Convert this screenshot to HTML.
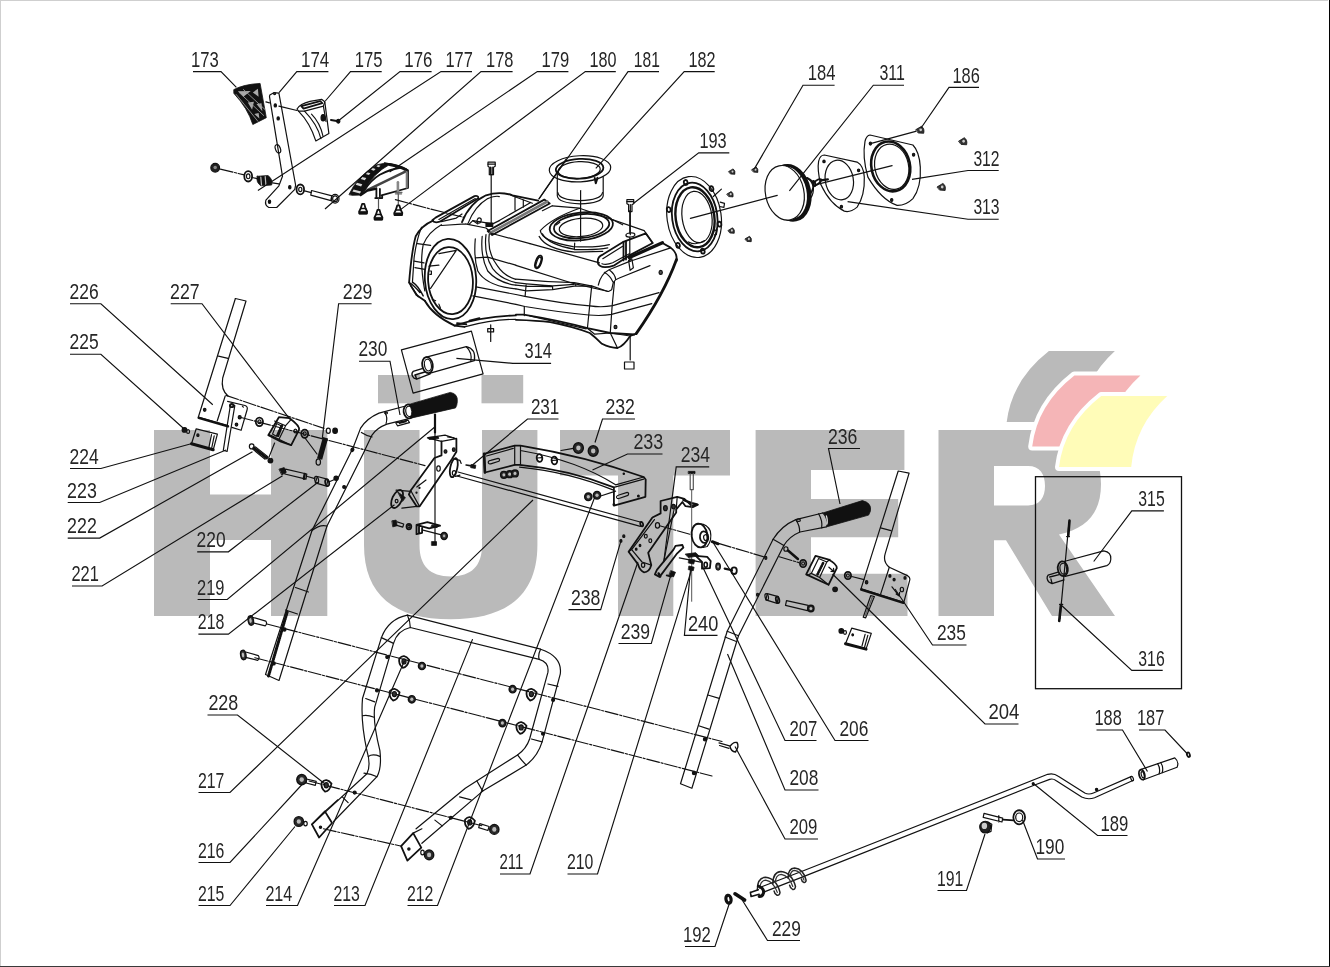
<!DOCTYPE html>
<html><head><meta charset="utf-8"><title>HUTER parts diagram</title>
<style>
html,body{margin:0;padding:0;background:#fff;}
body{width:1330px;height:967px;overflow:hidden;font-family:"Liberation Sans",sans-serif;}
svg{display:block;will-change:transform;opacity:0.999;}
.l{stroke:#111;stroke-width:1.15;fill:none;}
.p{stroke:#111;stroke-width:1.2;fill:none;stroke-linejoin:round;stroke-linecap:round;}
.pw{stroke:#111;stroke-width:1.2;fill:none;stroke-linejoin:round;}
.pf{stroke:#111;stroke-width:1.2;fill:#fff;stroke-linejoin:round;}
.t{stroke:#111;stroke-width:1.8;fill:none;stroke-linejoin:round;stroke-linecap:round;}
.k{fill:#111;stroke:#111;stroke-width:0.8;}
.d{stroke:#111;stroke-width:1.15;fill:none;stroke-dasharray:13 1.6 2.2 1.6;}
.n{font-family:"Liberation Sans",sans-serif;font-size:22.5px;fill:#262626;}
</style></head><body>
<svg width="1330" height="967" viewBox="0 0 1330 967">
<g fill="#bababa">
<path d="M154,430 H210 V494.5 H271 V430 H327.3 V616 H271 V540 H210 V616 H154 Z"/>
<path d="M364,430 H419.5 V545 C419.5,566 430,576.4 450.7,576.4 C471.5,576.4 482,566 482,545 V430 H537.4 V545 C537.4,595 507,619.3 450.7,619.3 C394.5,619.3 364,595 364,545 Z"/>
<rect x="378" y="375" width="42.3" height="28.3"/><rect x="481.5" y="375" width="41.7" height="28.3"/>
<path d="M560,430 H730 V475.5 H673.3 V616 H618 V475.5 H560 Z"/>
<path d="M755.6,430 H904.4 V470 H811 V499 H898.2 V537.2 H811 V573.8 H907.5 V616 H755.6 Z"/>
<path d="M938.5,430 H1043 C1082,430 1101,450 1101,484 C1101,512 1088,528 1059,534.5 L1115,616 H1052 L1006,540.3 H994 V616 H938.5 Z M994,466 V505.5 H1028 C1040,505.5 1045,497 1045,486 C1045,474 1040,466 1028,466 Z" fill-rule="evenodd"/>
</g>
<path d="M1048.9,351.1 h66 q-32,29 -36,71 h-72.2 q5,-42 42.2,-71 Z" fill="#bababa" stroke="#fff" stroke-width="8" stroke-linejoin="round" paint-order="stroke"/>
<path d="M1074.4,375.4 h66 q-32,29 -36,71 h-72.2 q5,-42 42.2,-71 Z" fill="#f5b5b7" stroke="#fff" stroke-width="8" stroke-linejoin="round" paint-order="stroke"/>
<path d="M1101.2,396.1 h66 q-32,29 -36,71 h-72.2 q5,-42 42.2,-71 Z" fill="#fffcb8" stroke="#fff" stroke-width="8" stroke-linejoin="round" paint-order="stroke"/>
<rect x="0" y="0" width="1328" height="1" fill="#cfcfcf"/>
<rect x="0" y="0" width="1" height="966" fill="#cfcfcf"/>
<rect x="1329" y="0" width="1" height="967" fill="#000"/>
<rect x="0" y="966" width="1330" height="1" fill="#3a3a3a"/>
<rect x="1035.5" y="476.7" width="146" height="212" fill="none" stroke="#111" stroke-width="1.3"/>
<g class="p">
<path class="k" d="M 234,89.5 Q 243.4,84.4 260.1,83.4 L 266.3,117.7 L 252.8,124.5 Q 247.8,108.3 234,93.5 Z"/>
<path d="M 237.9,91.2 L 250.7,90.9 L 243.4,96.7 Z M 252.8,92.4 L 257.9,88.8 L 258.6,96.7 Z M 247.8,102.5 L 253.9,101.8 L 252.1,109.7 Z M 256.5,104 L 261.5,103.2 L 262.3,111.2 Z M 254.3,114.1 L 258.6,112.9 L 259.4,118.4 Z" fill="#aaa" stroke="none"/>
<path d="M 239.1,92.4 L 263.7,115.5 M 243.4,89.5 L 265.2,109.7 M 236.2,94.5 L 257.9,121.3" stroke="#999" stroke-width="0.9"/>
<path class="pw" d="M 269.5,96.7 L 269.8,95 L 273.8,92.7 L 278.9,93.1 L 295.6,185 L 294.8,189.4 L 276.7,207.5 L 268.8,207.5 Q 264.4,205.3 265.9,200.2 L 278.9,185.8 L 282.5,176.3 Z"/>
<ellipse cx="275.3" cy="105.4" rx="1.16" ry="1.59" fill="#111"/>
<ellipse cx="278.2" cy="118.4" rx="1.16" ry="1.59" fill="#111"/>
<ellipse cx="289.8" cy="187.2" rx="1.16" ry="1.59" fill="#111"/>
<ellipse cx="269.5" cy="201.7" rx="1.16" ry="1.59" fill="#111"/>
<ellipse cx="274.6" cy="93.8" rx="1.01" ry="0.87"/>
<ellipse class="pw" cx="277.9" cy="148.8" rx="2.46" ry="4.34" transform="rotate(-20 277.9 148.8)"/>
<line x1="278.9" y1="106.1" x2="297" y2="110.5"/>
<line x1="265.9" y1="101.8" x2="269.5" y2="102.8"/>
<path class="pw" d="M 297,109 Q 299.9,104 310,101.4 L 321.6,99.3 L 324.8,101.8 L 328.9,133.6 L 315.8,140.9 Q 310,122.8 298.5,111.2 Z"/>
<path d="M 298.5,111.2 L 304.5,111.2 L 323.4,106.1 L 324.8,101.8"/>
<path d="M 304.5,111.2 Q 317.3,124.2 320.9,138.7"/>
<path class="t" d="M 301.3,106.1 L 320.2,101.1 L 322.3,103.2 L 303.5,108.6 Z"/>
<path d="M 311.5,114.1 Q 320.2,122.8 323.1,136.5"/>
<ellipse cx="323.1" cy="117.7" rx="2.03" ry="3.19" fill="#111"/>
<path d="M 323.4,106.1 L 326,121.3"/>
<ellipse cx="338.3" cy="121.3" rx="1.59" ry="1.88" fill="#111"/>
<line x1="331" y1="119.9" x2="336.8" y2="121" stroke-width="2"/>
<ellipse cx="215.2" cy="167.7" rx="4.34" ry="4.34" fill="#222"/>
<ellipse cx="215.2" cy="167.4" rx="1.74" ry="1.74" fill="#888" stroke="none"/>
<ellipse class="t" cx="248.2" cy="176.3" rx="3.91" ry="5.21"/>
<ellipse cx="248.2" cy="176.3" rx="1.74" ry="2.46"/>
<path class="k" d="M 257.2,176.3 L 268,175.6 Q 273.1,179.2 271.7,185 L 260.8,185.8 Q 255.7,182.1 257.2,176.3 Z"/>
<path d="M 260.8,177.1 L 261.5,185 M 265.2,176.6 L 265.9,185" stroke="#bbb" stroke-width="1.2"/>
<ellipse class="t" cx="300.3" cy="189.4" rx="3.76" ry="4.92"/>
<ellipse cx="300.3" cy="189.4" rx="1.59" ry="2.17"/>
<path class="pw" d="M 311.5,190.5 L 332,195.9 L 331,200.7 L 310.8,195.2 Z"/>
<ellipse class="pw" cx="335.1" cy="198.8" rx="3.91" ry="4.34"/>
<ellipse cx="335.1" cy="198.8" rx="2.46" ry="2.9"/>
<line class="d" x1="220.3" y1="169.1" x2="244.2" y2="174.9"/>
<line x1="252.1" y1="177.5" x2="257.2" y2="178.7"/>
<line x1="272.4" y1="182.9" x2="278.9" y2="183.9"/>
<line x1="304.5" y1="190.8" x2="311.2" y2="192.6"/>
</g>
<g class="p">
<path class="k" d="M 349.1,194.3 Q 356.5,177.3 376.4,164.9 L 384.7,163.2 L 389.6,164.5 Q 373.1,173.2 364,191.4 L 360.7,195.1 L 352.4,195.3 Z"/>
<path d="M 352.4,191.4 L 359.9,193.4 L 361.1,191.4 L 353.6,189.5 Z M 355.7,184.7 L 361.1,186.4 L 362.3,184.3 L 357,182.7 Z M 360.7,178.9 L 364.8,180.2 L 366.3,178.1 L 362.2,176.9 Z M 365.6,174 L 368.9,175.1 L 370.4,173.2 L 367.1,172.2 Z M 371,169.7 L 373.9,170.7 L 375.6,168.9 L 372.7,168 Z M 376.4,166.5 L 378.9,167.2 L 380.5,165.7 L 378,165.1 Z" fill="#d8d8d8" stroke="none"/>
<path class="t" d="M 384.7,163.2 Q 397.9,165.3 408,170.3 L 408,188 L 381.4,195.3"/>
<path d="M 389.6,164.5 Q 399.6,166.1 406.2,169.9" stroke-width="3"/>
<path class="t" d="M 364.8,189.7 Q 371.4,179.8 379.7,174.8 Q 389.6,169.4 401.2,167.5"/>
<path d="M 367.7,189.9 L 405.3,171.7" stroke-width="2.6" stroke="#444"/>
<path d="M 360.7,195.1 L 367.3,190.5 L 375.6,188.9" stroke-width="2.4"/>
<path d="M 406.8,172.3 L 406.8,187.6" stroke="#777" stroke-width="2.2"/>
<path class="t" d="M 376.4,188.2 L 376.4,198.1 M 379.9,188.9 L 379.9,196.5 M 375.2,198.1 L 382.2,198.1 L 382.2,196.3"/>
<path d="M 397.9,182.3 L 397.9,193" stroke="#888" stroke-width="2.6"/>
<path d="M 395.4,192.3 L 402,192.3 M 395.4,193.8 L 401.6,193.8" stroke="#666"/>
<path d="M 378.5,198.8 L 378.5,209.6 M 398.3,194.3 L 398.3,204.6" stroke="#555"/>
<path class="t" d="M 362.2,203.8 L 364.2,203.8 L 365.6,208.5 L 367.1,211.4 L 366.9,213.7 L 359.4,213.7 L 359.2,211.4 L 360.7,208.5 Z"/>
<path class="k" d="M 359.4,211.4 L 367,211.4 L 366.8,213.9 L 359.5,213.9 Z"/>
<path d="M 360.7,208.5 L 365.6,208.5" stroke-width="1.6"/>
<path class="t" d="M 377.5,209.8 L 379.5,209.8 L 380.9,214.5 L 382.4,217.4 L 382.2,219.7 L 374.7,219.7 L 374.5,217.4 L 376,214.5 Z"/>
<path class="k" d="M 374.7,217.4 L 382.3,217.4 L 382.1,219.9 L 374.8,219.9 Z"/>
<path d="M 376,214.5 L 380.9,214.5" stroke-width="1.6"/>
<path class="t" d="M 397.3,205.3 L 399.3,205.3 L 400.8,210 L 402.3,212.9 L 402,215.2 L 394.6,215.2 L 394.3,212.9 L 395.8,210 Z"/>
<path class="k" d="M 394.5,212.9 L 402.1,212.9 L 402,215.3 L 394.7,215.3 Z"/>
<path d="M 395.8,210 L 400.8,210" stroke-width="1.6"/>
<path class="d" d="M 395.4,199.6 L 430,208.9 L 464.1,217.4"/>
</g>
<g class="p">
<path class="pw" d="M 557.3,174.7 L 557.3,195.8 Q 557.9,203.2 580,203.8 Q 602.1,203.2 603.2,195.8 L 603.2,176.8"/>
<path d="M 557.9,192.6 Q 558.9,200 580,200.6 Q 601.1,200 602.5,192.6"/>
<ellipse class="pw" cx="580" cy="168.8" rx="30.74" ry="13.05" transform="rotate(-3 580 168.8)" stroke-width="1.4"/>
<ellipse class="t" cx="579.6" cy="168.8" rx="23.79" ry="9.89" transform="rotate(-3 579.6 168.8)"/>
<ellipse cx="579.2" cy="170.1" rx="21.05" ry="8.42" transform="rotate(-3 579.2 170.1)"/>
<path d="M 594.7,177.9 L 595.8,183.2 L 597.5,177.9" stroke-width="2"/>
<line x1="580.6" y1="190.5" x2="580.6" y2="241.1"/>
<line x1="566.3" y1="158.9" x2="538.9" y2="198.9"/>
<path class="pw" d="M 488,162.1 L 495.2,162.1 L 495.2,166.3 L 493.5,167.2 L 493.5,174.7 L 489.3,174.7 L 489.3,167.2 L 488,166.3 Z"/>
<path d="M 488,164.2 L 495.2,164.2 M 490.5,167.2 L 490.5,174.7 M 492.2,167.2 L 492.2,174.7" stroke-width="1.3"/>
<line x1="491.2" y1="174.7" x2="491.2" y2="225.3"/>
<path class="pw" d="M 626.9,199.6 L 633.7,199.6 L 633.7,203.8 L 632,204.6 L 632,211.6 L 628.6,211.6 L 628.6,204.6 L 626.9,203.8 Z"/>
<path d="M 626.9,201.7 L 633.7,201.7 M 630.3,204.6 L 630.3,211.6" stroke-width="1.3"/>
<line x1="630.3" y1="211.6" x2="630.3" y2="234.7"/>
</g>
<g class="p">
<path class="t" d="M 433.1,220.6 Q 421.5,225.5 415.7,236.3 Q 411.6,251.2 409.1,282.6 L 416.5,295 L 424.8,300.8"/>
<path class="t" d="M 424.8,300.8 Q 433.1,315.7 454.6,325.6 L 464.5,326.8"/>
<path d="M 409.1,282.6 Q 413.2,284.3 419.9,292.5 M 410.8,285.9 L 418.2,296.7 M 413.2,282.6 Q 418.2,285.9 423.2,295.9" stroke-width="1.4"/>
<path d="M 441.4,224.7 Q 428.1,232.2 423.2,244.6 Q 419.5,262.8 424.8,290.9"/>
<path d="M 421.5,227.2 Q 416.5,239.6 414.1,257.8 L 412.4,282.6"/>
<path d="M 417.4,243.7 L 430.6,245.4 M 414.1,261.1 L 424,262.8 M 414.9,267.7 L 424.8,269.4"/>
<ellipse class="t" cx="450.5" cy="279" rx="25.65" ry="40.21" transform="rotate(-4 450.5 279)"/>
<ellipse class="t" cx="450.5" cy="280.6" rx="22.34" ry="33.59" transform="rotate(-4 450.5 280.6)"/>
<path d="M 429,266.1 L 438.9,265.2 M 430.6,288.4 L 456.3,250.4 M 438.9,253.7 L 456.3,250.4 M 432.3,299.2 L 435.6,300.8 M 438.9,304.1 L 440.5,308.3"/>
<path d="M 429.8,271 L 431.4,271 L 431.4,274.3 L 429.8,274.3"/>
<path class="t" d="M 432.3,220.2 L 435.6,217.6 L 474.5,196.1 Q 478.6,195.3 478.3,198.2 L 439.7,221.7 Q 433.9,223.4 432.3,220.2 Z"/>
<path d="M 438.9,219.4 L 475.3,198.6 M 441.4,221.7 L 456.3,218.1 L 462,214"/>
<path class="t" d="M 462,222.2 Q 469.5,203.2 486,195.3 Q 499.3,190.8 512.5,195.3 L 538.2,200.7"/>
<path d="M 467.8,223.9 Q 474.5,206.5 487.7,198.6 Q 496,195.3 499.3,196.6"/>
<path d="M 465.4,223.9 L 486,228 L 490.2,231.7 M 441.4,225.5 L 465.4,223.9 M 469.5,223.9 L 472.8,220.6 L 492.7,223.9 L 499.3,220.6"/>
<path d="M 515,197.4 L 515,210.1 M 523.3,199.9 L 523.3,207.3 M 510.9,195.3 L 532.4,203.2 M 499.3,220.6 L 530.7,202.4"/>
<ellipse cx="479.1" cy="220.6" rx="1.99" ry="2.65" transform="rotate(20 479.1 220.6)"/>
<path d="M 486,223.1 L 492.7,223.1 L 492.7,226.4 L 486,226.4 Z" fill="#111"/>
<path d="M 472.8,220.6 L 477.8,223.9"/>
<path class="t" d="M 487.7,231 L 544.3,199.6 L 549.7,203.5 L 492.2,235 Z"/>
<path d="M 490.2,233 L 547.3,201.5" stroke-width="2.6" stroke="#777"/>
<path d="M 475.3,238.8 Q 473.6,257.8 477.8,271 Q 486,285.9 515.8,288.9"/>
<path d="M 482.2,236.3 Q 480.2,256.1 487.7,271 Q 497.6,282.6 515.8,285.1"/>
<path d="M 486,234.6 Q 483.6,254.5 492.7,268.6 Q 500.9,279.3 515.8,282.6"/>
<path d="M 489.3,234 Q 486.9,252.8 497.6,266.1 Q 504.2,276 515.8,279.3"/>
<path d="M 475.3,257.8 L 487.7,257.1 L 515.8,265.2 M 490.2,233 L 530,243.6"/>
<path d="M 476.1,286.8 L 515.8,294.5 M 472.8,295.9 L 515.8,304.3"/>
<path class="t" d="M 454.6,325.6 Q 482.7,316.5 515.8,315.4"/>
<path d="M 464.5,326.8 Q 492.7,319.3 515.8,319.3"/>
<path d="M 457.1,323.2 L 466.2,324.3 M 469.5,320.7 L 479.4,318.2" stroke-width="2"/>
<ellipse class="t" cx="538.5" cy="261.9" rx="2.81" ry="6.62" transform="rotate(20 538.5 261.9)"/>
<ellipse cx="538.5" cy="262.3" rx="1.82" ry="5.29" transform="rotate(20 538.5 262.3)"/>
<path d="M 490.7,324.8 L 490.7,341.4 M 487.7,328.6 L 493.6,328.6 L 493.6,331.9 L 487.7,331.9 Z"/>
<path d="M 515.9,265.4 L 574.2,283.7 L 608.5,291.5 L 611.7,289.7 L 613.3,282.5"/>
<path d="M 515.9,279.2 Q 544.1,281.9 574.2,282.7 L 592.3,286.1 L 607.9,291.5"/>
<path d="M 515.9,282.6 Q 538.1,285.1 552.6,285.8 L 574.2,284.4 M 515.9,285.1 L 526.1,286.1 L 552.6,286.7 M 515.9,288.9 L 526.1,290.9 L 552.6,289.7 L 574.2,286.1 L 591.7,286.1 M 526.1,285.1 L 525.1,296.3 M 552.6,285.8 L 552.6,289.7 M 575.7,284.3 L 575.7,286.1"/>
<path d="M 515.9,294.5 L 524.9,296.3 Q 562.2,303.5 589.8,305.9 Q 601.9,307.7 612.7,305.6 L 659,292.6"/>
<path d="M 515.9,304.4 L 524.9,306.5 Q 562.2,312.6 588.6,315 Q 601.9,316.2 611.5,314.4 L 651.8,303.7"/>
<path d="M 524.3,306.5 L 524.3,315.6 M 591.7,286.1 L 589.6,306.5 L 587.4,328.2 M 614.5,281.5 L 612.1,306.5 L 610.3,332.4"/>
<path class="t" d="M 515.9,314.6 L 523.7,314.6 Q 562.2,321 587.4,328.2 L 610.3,333 L 634.4,334.5"/>
<path class="t" d="M 515.9,319.8 Q 538.1,320.4 550.2,322.2 Q 574.2,327 589.8,333 Q 595.9,337.8 601.9,343.8 Q 610.3,348 617.5,348 Q 623.5,346.2 630.2,336 L 636.2,333.6"/>
<path d="M 587.4,328.2 L 594.7,334.2 L 610.3,333 L 617.5,348 M 610.3,333 L 630.2,336 M 529.7,315.9 L 586.2,328.8" stroke-width="1.2"/>
<ellipse cx="615.5" cy="327" rx="1.44" ry="1.68" fill="#444"/>
<path d="M 598.3,285.1 Q 600.7,274.1 609.1,269.8 L 630.2,261.1 M 609.1,269.8 Q 615.1,274.1 615.7,279.5 M 604.3,272.3 Q 610.3,275.9 612.7,281.5 M 613.3,282.5 Q 615.1,279.5 618.7,278.3 L 650,265.6"/>
<path d="M 630.2,336 L 630.2,360"/>
<path d="M 530,243.6 L 599.5,262.8 M 552.3,205.8 L 579.6,208.2 L 644.2,230.6 L 652.4,243 M 579.6,208.2 Q 551.5,218.2 540.3,230.6 Q 541.6,241.3 573,246.6 Q 596.2,247.9 609.4,244.6"/>
<path d="M 552.3,205.8 L 542.4,210.7"/>
<ellipse class="t" cx="581.3" cy="226.4" rx="31.77" ry="13.9" transform="rotate(-6 581.3 226.4)"/>
<ellipse class="t" cx="581.6" cy="226.1" rx="27.8" ry="11.91" transform="rotate(-6 581.6 226.1)" stroke-width="2.2"/>
<ellipse cx="581" cy="227.4" rx="21.84" ry="9.1" transform="rotate(-6 581 227.4)"/>
<path d="M 542.4,233.9 Q 548.2,244.6 574.7,249.3 Q 596.2,250.4 607.8,247.9 M 539.1,236.4 Q 546.5,249.6 574.7,252.1 L 602.8,251.3 M 574.7,243 L 574.3,249.6"/>
<path d="M 612.7,219.8 L 622.7,224.8 M 559.8,222.3 L 556.5,224.8"/>
<ellipse cx="630.4" cy="235" rx="4.47" ry="1.99" transform="rotate(-5 630.4 235)"/>
<path class="t" d="M 597.8,261.2 Q 597.8,256.2 602.8,254.6 L 622.7,242.2 L 645.8,233.4 L 652.8,243 L 630.9,254.6 L 614.4,265.3 Q 604.5,268.6 600.3,266.1 Q 597.5,264.5 597.8,261.2 Z"/>
<path d="M 602.8,258.7 L 622.7,246.3 M 602,263.7 Q 606.1,265.3 612.7,262.8 L 629.3,253.7" stroke-width="1.2"/>
<path class="t" d="M 623.5,242.2 L 623.5,260.4 M 626,241.3 L 626,259.5"/>
<path d="M 629.3,257.5 L 662.4,242.7" stroke-width="3.4"/>
<path d="M 628.6,260.4 L 631.8,258.7 L 633.4,267.8 L 630.1,270.3 Z"/>
<path class="t" d="M 662.4,243 L 670.6,247.6 Q 677.6,252.9 676.6,260.9"/>
<path d="M676.5,259.5 Q664,294 636.2,333.6" stroke-width="2.8"/>
<path d="M 629.3,261.5 L 670.6,247.9"/>
<ellipse cx="660.7" cy="272.4" rx="1.65" ry="1.99" fill="#555"/>
<path d="M 629.8,210.7 L 629.8,233.1 M 629.8,237.2 L 629.8,261.2"/>
</g>
<rect x="624.5" y="362" width="9.5" height="7" class="p" stroke-width="1.6"/>
<g class="p">
<ellipse cx="694.1" cy="217" rx="27.06" ry="40.71" transform="rotate(-8 694.1 217)"/>
<ellipse class="t" cx="694.7" cy="217" rx="22.59" ry="34.51" transform="rotate(-8 694.7 217)"/>
<ellipse cx="695" cy="217.3" rx="19.36" ry="30.16" transform="rotate(-8 695 217.3)" stroke-width="2.4"/>
<ellipse cx="697" cy="217" rx="14.9" ry="25.82" transform="rotate(-8 697 217)"/>
<path d="M 688.5,241.9 Q 696,246.2 704.7,240.6"/>
<ellipse cx="685.7" cy="182.5" rx="1.86" ry="2.48" transform="rotate(-10 685.7 182.5)" stroke-width="1.8"/>
<ellipse cx="711.5" cy="188.7" rx="1.86" ry="2.48" transform="rotate(-10 711.5 188.7)" stroke-width="1.8"/>
<ellipse cx="668.7" cy="209.6" rx="1.86" ry="2.48" transform="rotate(-10 668.7 209.6)" stroke-width="1.8"/>
<ellipse cx="719.5" cy="224.2" rx="1.86" ry="2.48" transform="rotate(-10 719.5 224.2)" stroke-width="1.8"/>
<ellipse cx="678" cy="245.3" rx="1.86" ry="2.48" transform="rotate(-10 678 245.3)" stroke-width="1.8"/>
<ellipse cx="702.8" cy="251.2" rx="1.86" ry="2.48" transform="rotate(-10 702.8 251.2)" stroke-width="1.8"/>
<path d="M 720.2,202.1 L 724.5,203.4 L 723.9,207.3 L 719.5,206.5 M 713.3,196.5 L 721.4,189.1 M 714.6,230.7 L 717.1,229.4 L 716.4,234.4 L 714.3,235"/>
<line x1="788.4" y1="191" x2="801.5" y2="182.9"/>
<ellipse cx="790.3" cy="192.8" rx="19.24" ry="27.56" transform="rotate(-12 790.3 192.8)" stroke-width="3.2"/>
<ellipse cx="788.4" cy="192.8" rx="19.24" ry="27.56" transform="rotate(-12 788.4 192.8)" stroke-width="2.2"/>
<ellipse class="pf" cx="784.7" cy="192.8" rx="19.24" ry="27.56" transform="rotate(-12 784.7 192.8)"/>
<line x1="690.4" y1="218.3" x2="777.3" y2="195.3"/>
<path d="M 805.8,177.9 Q 811.4,179.2 813.3,187.2 Q 813.9,193.4 810.8,197.8"/>
<ellipse class="t" cx="814.1" cy="183.5" rx="1.24" ry="2.73" transform="rotate(-15 814.1 183.5)"/>
<path d="M 728.8,171.4 L 733.1,168.9 Q 735.7,170.6 734.8,174.3 L 730.8,174 Z" fill="#333" stroke="#111" stroke-width="0.8"/><ellipse cx="732.5" cy="171.6" rx="1" ry="1.14" fill="#ccc" stroke="none"/>
<path d="M 751.8,169.6 L 756.1,167 Q 758.6,168.7 757.8,172.4 L 753.8,172.1 Z" fill="#333" stroke="#111" stroke-width="0.8"/><ellipse cx="755.5" cy="169.7" rx="1" ry="1.14" fill="#ccc" stroke="none"/>
<path d="M 727,194 L 731.2,191.5 Q 733.8,193.2 733,196.9 L 729,196.6 Z" fill="#333" stroke="#111" stroke-width="0.8"/><ellipse cx="730.7" cy="194.2" rx="1" ry="1.14" fill="#ccc" stroke="none"/>
<path d="M 728.2,230.4 L 732.5,227.8 Q 735.1,229.5 734.2,233.3 L 730.2,233 Z" fill="#333" stroke="#111" stroke-width="0.8"/><ellipse cx="731.9" cy="230.5" rx="1" ry="1.14" fill="#ccc" stroke="none"/>
<path d="M 745.2,238.8 L 749.5,236.3 Q 752.1,238 751.2,241.7 L 747.2,241.4 Z" fill="#333" stroke="#111" stroke-width="0.8"/><ellipse cx="748.9" cy="239" rx="1" ry="1.14" fill="#ccc" stroke="none"/>
<path d="M 824.3,155 L 857.1,162.1 Q 863.6,165.7 864.3,177.1 Q 865,195.7 857.1,207.1 Q 850,212.9 844.3,211.1 Q 830,204.3 820.7,184.3 Q 817.1,170 818.6,161.4 Q 820,155 824.3,155 Z"/>
<ellipse cx="839.3" cy="180" rx="14" ry="20" transform="rotate(-10 839.3 180)"/>
<ellipse cx="824" cy="161.4" rx="1.14" ry="1.29" fill="#222"/>
<ellipse cx="858.6" cy="170.3" rx="1.14" ry="1.29" fill="#222"/>
<ellipse cx="841.4" cy="206.7" rx="1.14" ry="1.29" fill="#222"/>
<path class="t" d="M 807.1,177.9 Q 811.4,180 813.6,182.9 M 808.6,195.7 Q 812.9,191.4 813.6,185.7 M 813.6,185.7 Q 812.9,182.1 818.6,179.3 Q 822.9,178.6 820.7,181.4 Q 817.1,185.7 813.6,185.7"/>
<path d="M 820.7,180.3 L 827.9,179.4" stroke-width="2.2"/>
<line x1="817.1" y1="184.3" x2="892.1" y2="165.7"/>
<path d="M 870,135 L 912.9,145 Q 919.3,151.4 920.3,167.1 Q 921.4,187.1 912.9,198.6 Q 905.7,205.7 897.1,205.4 Q 881.4,200 867.9,177.1 Q 862.1,157.1 865,141.4 Q 866.4,135.4 870,135 Z"/>
<ellipse cx="890.7" cy="166.4" rx="19.29" ry="25.14" transform="rotate(-12 890.7 166.4)" stroke-width="2.6"/>
<ellipse cx="891.7" cy="166.7" rx="16.86" ry="22.86" transform="rotate(-12 891.7 166.7)"/>
<ellipse cx="870.4" cy="143.6" rx="1.14" ry="1.43" fill="#222"/>
<ellipse cx="913.6" cy="154.7" rx="1.14" ry="1.43" fill="#222"/>
<ellipse cx="891.7" cy="200" rx="1.14" ry="1.43" fill="#222"/>
<line x1="870.4" y1="143.6" x2="915.7" y2="131.4"/>
<path d="M 915.9,129.6 L 921.5,126.3 Q 924.8,128.5 923.7,133.3 L 918.5,133 Z" fill="#333" stroke="#111" stroke-width="0.8"/><ellipse cx="920.7" cy="129.8" rx="1.3" ry="1.49" fill="#ccc" stroke="none"/>
<path d="M 958.8,141.1 L 964.3,137.7 Q 967.7,139.9 966.6,144.8 L 961.4,144.4 Z" fill="#333" stroke="#111" stroke-width="0.8"/><ellipse cx="963.6" cy="141.2" rx="1.3" ry="1.49" fill="#ccc" stroke="none"/>
<path d="M 937.3,186.8 L 942.9,183.4 Q 946.3,185.7 945.1,190.5 L 939.9,190.1 Z" fill="#333" stroke="#111" stroke-width="0.8"/><ellipse cx="942.2" cy="187" rx="1.3" ry="1.49" fill="#ccc" stroke="none"/>
</g>
<g class="p">
<path d="M401.4,349.8 L471.4,331.2 L483.1,373.8 L413.1,393.1 Z"/>
<ellipse class="t" cx="427.5" cy="365.1" rx="5.23" ry="8.12" transform="rotate(-10 427.5 365.1)"/>
<ellipse cx="427.9" cy="365.1" rx="3.43" ry="5.95" transform="rotate(-10 427.9 365.1)"/>
<path d="M 426.3,357.2 L 466.3,346.7 Q 476.2,348.9 474.4,360.6 L 430.2,373.2"/>
<path d="M 466.3,346.7 Q 472.6,352.5 470.8,361.5"/>
<path d="M 422.1,368.7 L 413.1,371.4 Q 410.4,374.1 414,378.1 L 416.7,379.2 L 430.2,373.8 M 414.9,375 L 424.8,372 M 416.7,379.2 L 415.4,375.6" stroke-width="1.4"/>
</g>
<g class="p">
<path d="M 235.4,298.5 L 246,301 L 222.7,378 Q 220.6,389.6 228,396"/>
<path class="d" d="M226,395.4 L324,428.4"/>
<path class="d" d="M240,417.2 L425,465.6"/>
<path d="M 235.4,298.5 L 198.3,417.2 L 228,425.7" stroke-width="1.2"/>
<path d="M 198.7,417.8 L 228,426.3" stroke-width="2.4"/>
<path d="M 218.5,356.1 L 228,358.3 M 225.2,396 L 217.2,421"/>
<ellipse cx="204.7" cy="409.8" rx="1.27" ry="1.48" fill="#222"/>
<path d="M 230.5,404.5 L 234.8,405.7 L 227.1,451.5 L 223.3,450.3 Z"/>
<path d="M 227.6,401.3 L 245,405.5 Q 248.1,406.6 247.1,409.8 L 241.1,430.3 L 231.8,427.4"/>
<ellipse class="t" cx="231.8" cy="405.5" rx="1.91" ry="1.7"/>
<ellipse cx="239.7" cy="417.2" rx="1.48" ry="1.7" fill="#222"/>
<ellipse cx="236.5" cy="424.6" rx="1.27" ry="1.48" fill="#222"/>
<path d="M 242.4,406.2 L 243.3,407.2"/>
<path d="M 196.2,428.8 L 217.4,434.1 L 213.2,450 L 191.5,443.7 Z"/>
<path d="M 191.5,443.7 L 213.2,449.8" stroke-width="3"/>
<path d="M 211.5,434.6 L 208.9,447.3 M 214.2,435.8 L 211.5,449"/>
<ellipse cx="197.9" cy="435.2" rx="1.06" ry="1.27" fill="#222"/>
<ellipse cx="184.5" cy="429.9" rx="2.33" ry="2.33" fill="#151515" stroke="#111"/>
<ellipse cx="188.1" cy="431.6" rx="1.48" ry="1.91"/>
<ellipse class="t" cx="259.4" cy="421.8" rx="3.6" ry="4.24"/><ellipse cx="259.4" cy="421.8" rx="1.61" ry="1.91"/>
<path class="t" d="M 278.9,417.2 L 289.5,418.2 Q 300.1,425.7 299,429.9 L 291.2,445.2 L 281,441.6 L 268.3,435.2 Z"/>
<path d="M 274.6,421 L 285.6,425.7 L 278.9,439.4 L 269.3,434.6 M 285.6,425.7 L 291.2,419.3 M 278.9,439.4 L 291.2,445.2 M 276.7,423.5 L 281,425.7 L 276.3,436.3 L 272.5,434.1 Z"/>
<path d="M 282,425.7 L 277.8,436.3" stroke-width="2.6" stroke-dasharray="1.2 1.2"/>
<ellipse cx="295.4" cy="431" rx="1.48" ry="1.91"/>
<ellipse class="t" cx="304.7" cy="433.7" rx="3.42" ry="4.03"/><ellipse cx="304.7" cy="433.7" rx="1.53" ry="1.81"/>
<path d="M305,438 L317,454"/>
<path d="M325.5,437.8 L319.6,459" stroke-width="5.3" stroke-linecap="butt"/>
<ellipse cx="318.3" cy="462" rx="2.2" ry="3.2"/>
<ellipse cx="328.3" cy="430.8" rx="2" ry="2.6"/><ellipse cx="335.1" cy="430.8" rx="2.3" ry="2.6" fill="#111"/>
<ellipse class="pw" cx="251.7" cy="446.4" rx="2.33" ry="2.54"/>
<path d="M 253.9,447.9 L 266.6,457.9" stroke-width="3" stroke-dasharray="1.3 1"/>
<path d="M 253,449.4 L 265.1,459.2 M 255.5,446.9 L 267.8,456.6"/>
<ellipse cx="270.4" cy="460.6" rx="2.33" ry="2.33" fill="#151515" stroke="#111"/>
<path d="M 274.6,443 L 268.7,457.9"/>
<path class="k" d="M 279.3,469.1 L 284.2,467.6 L 286.3,472.3 L 282,474.8 Z"/>
<path d="M 285.6,469.1 L 306.8,474 L 306,479.1 L 284.8,474 Z"/>
<path d="M 304.7,474 L 303.9,478.7" stroke-width="2.4"/>
<path d="M 317.4,476.5 L 328,479.3 L 326.6,486.1 L 315.3,482.9 Z"/>
<ellipse cx="316.6" cy="479.7" rx="1.91" ry="3.39" transform="rotate(-12 316.6 479.7)"/>
<ellipse class="t" cx="327.2" cy="482.7" rx="1.91" ry="3.39" transform="rotate(-12 327.2 482.7)"/>
<ellipse cx="336.1" cy="478.2" rx="2.12" ry="2.12" fill="#151515" stroke="#111"/>
<path d="M 307.5,476.5 L 314.9,478.7 M 329.3,481.8 L 334,479.7"/>
</g>
<g class="p">
<path class="k" d="M 408.9,404.4 L 450.3,392.4 Q 458.2,393.8 457.3,401.7 Q 457,406.1 455.5,407.9 L 409.8,418.4 Q 414.2,411.4 408.9,404.4 Z"/>
<ellipse class="t" cx="408.9" cy="411.4" rx="5.28" ry="7.04" transform="rotate(-8 408.9 411.4)"/>
<ellipse cx="409.3" cy="411.4" rx="3.52" ry="5.28" transform="rotate(-8 409.3 411.4)"/>
<path d="M 395.7,422.8 L 408.1,420.2 L 409.5,422.6 L 397.5,425.8 Z M 399.3,423.3 L 406.3,421.6" stroke-width="1.2"/>
<path d="M 435,414.6 L 435,432.5" stroke-width="2.2"/>
<path d="M 403.7,406.5 L 379,413.1 Q 366.7,418.4 360.6,428.1 L 353,448"/>
<path d="M 408.1,418.8 L 386.9,424.1 Q 376.4,428.1 372,435.1 L 364.4,451"/>
<path d="M 385.2,413.1 Q 387.8,417.5 386.1,423.3 M 361.4,432.5 Q 366.7,436 372,436.9"/>
<ellipse cx="386.1" cy="413.1" rx="1.41" ry="0.88"/>
<ellipse cx="352.1" cy="450.4" rx="1.06" ry="1.23"/>
</g>
<g class="p">
<path d="M353,448 L312,530.5 L265.5,674.5 L279,680.5 L327,526 L364.5,451"/>
<path d="M312,530.5 Q320,524 327,526 M295.5,587.5 L308.4,592 M285.5,610 L297.5,614"/>
<path d="M287.2,612 L268.5,676" stroke-width="3" stroke-dasharray="1.2 1"/>
<circle cx="344.1" cy="487" r="1.4" fill="#111"/><circle cx="352.5" cy="449.5" r="1.4" fill="#111"/><circle cx="284.4" cy="629.5" r="1.6" fill="#111"/><circle cx="273.6" cy="663.4" r="1.6" fill="#111"/>
</g>
<g class="p">
<path d="M 427.4,437.8 L 445,435.1 L 456.4,438.7 L 441.5,441.3 Z"/>
<path class="k" d="M 428.3,437.4 L 438,436.4 L 438.8,438.5 L 429.5,439.5 Z"/>
<path class="t" d="M 441.5,441.3 L 441.5,455.4 L 434.4,458 L 410.7,490.5 L 408.9,494.4 L 416.8,506.4 L 419.5,506.4 L 452,458.9 L 456.4,451.8 L 456.4,438.7"/>
<path d="M 410.7,490.5 L 419.5,506.4 M 416.8,487 L 426,480 M 447.6,436.9 L 453.8,437.8"/>
<ellipse cx="445.5" cy="451.5" rx="1.41" ry="1.76" fill="#333"/>
<ellipse cx="453.8" cy="449.7" rx="1.41" ry="1.76" fill="#333"/>
<ellipse cx="438.5" cy="468.6" rx="1.76" ry="2.64"/>
<ellipse cx="419.5" cy="487.9" rx="0.53" ry="0.53" fill="#111"/>
<ellipse cx="416.5" cy="492.7" rx="0.53" ry="0.53" fill="#111"/>
<ellipse class="t" cx="397.1" cy="499" rx="4.75" ry="9.68" transform="rotate(25 397.1 499)"/>
<path d="M 396.1,490.2 L 410.7,491.4 M 401.9,508.1 L 416.8,506.4"/>
<path class="k" d="M 397.8,492 L 405.4,497.6 L 402.8,501.1 Z"/>
<ellipse cx="396.6" cy="501.1" rx="1.41" ry="1.76"/>
<line x1="435" y1="432.5" x2="435" y2="541.6"/>
<path class="k" d="M 392.2,520.8 L 396.1,520.1 L 397.1,525.7 L 393.1,526.8 Z"/>
<path d="M 397.1,521.9 L 403.7,524 L 402.8,527.1 L 396.8,525.4"/>
<ellipse class="t" cx="408.9" cy="526.6" rx="2.39" ry="2.81"/><ellipse cx="408.9" cy="526.6" rx="1.07" ry="1.27"/>
<path class="t" d="M 416.5,524.9 L 427.4,522.2 L 440.1,525.7 L 429.2,528.4 Z M 416.5,524.9 L 416.5,534.2 L 422.1,532.8 L 422.1,526.8 M 419,525.7 L 419,533.6"/>
<path class="k" d="M 432.3,524.9 L 438.8,525.7 L 437.1,527.5 L 431.3,526.8 Z"/>
<path d="M 423,530.1 L 441.5,534.9"/>
<ellipse cx="444.1" cy="535.9" rx="3.17" ry="3.52" fill="#333" stroke="#111" stroke-width="1.5"/>
<ellipse cx="444.1" cy="535.9" rx="1.23" ry="1.41" fill="#aaa" stroke="none"/>
<path class="k" d="M 431.8,541.6 L 436.5,541.6 L 436.5,545.4 L 431.8,545.4 Z"/>
<ellipse class="t" cx="453.8" cy="467.7" rx="3.52" ry="9.68" transform="rotate(12 453.8 467.7)"/>
<path d="M 453.8,458.9 L 459.9,460.3 L 461.2,463.5 M 455.2,476.5 L 459.9,475.1"/>
<ellipse cx="454.1" cy="473" rx="1.76" ry="2.46"/>
<path class="k" d="M 471.4,464.5 L 475.8,465.2 L 475.3,468.4 L 471,467.7 Z"/>
<path d="M 466.1,465 L 471.4,465.9" stroke-width="1.6"/>
</g>
<g class="p">
<path d="M458,472 L642,522.5 M457,476 L640.4,526.3"/>
<ellipse class="t" cx="641.7" cy="524.1" rx="1.32" ry="2.32" transform="rotate(-15 641.7 524.1)"/>
<path class="t" d="M 484.1,453.8 L 514.7,445.6 L 520.5,445.6 Q 585.8,456.3 643.7,477 L 645.7,479.5 L 645.4,496.8 L 613.9,505.6 L 613.9,487.4 Q 569.3,469.6 519.6,464.9 L 514.7,464.9 L 484.9,472.5 Z"/>
<path d="M 514.7,445.6 L 514.7,464.9 M 520.5,445.6 L 520.5,464.6 M 486.5,456 L 513.3,448.4 M 613.9,487.4 L 643.7,479.1 M 520.5,450.5 Q 577.5,460.5 615.6,484.8 M 643.7,477 L 615.6,484.8"/>
<path d="M 519.6,467.1 Q 569.3,472 613.6,490.2" stroke-width="1.3"/>
<path d="M 484.1,453.8 L 484.9,472.5" stroke-width="2.6"/>
<path d="M 488.5,463.3 Q 487.4,461 490.7,460.3 L 498.1,458.3 Q 500.6,459 498.9,461.3 L 491.5,463.6 Q 489.5,464.3 488.5,463.3 Z"/>
<path d="M 616.9,498 Q 615.6,496 618.9,495 L 627.2,492.4 Q 629.6,493 628,495.4 L 619.7,498.3 Q 617.6,499 616.9,498 Z"/>
<ellipse class="t" cx="539.5" cy="458" rx="2.81" ry="3.97" transform="rotate(-5 539.5 458)"/>
<ellipse class="t" cx="554.4" cy="460.5" rx="2.81" ry="3.97" transform="rotate(-5 554.4 460.5)"/>
<path d="M 537,458 L 542,457.6 M 551.9,460.5 L 556.8,460.1"/>
<ellipse cx="638.4" cy="496" rx="0.83" ry="0.99" fill="#111"/>
<ellipse cx="613.9" cy="504.6" rx="0.83" ry="0.99" fill="#111"/>
<ellipse cx="623.8" cy="473.7" rx="0.66" ry="0.66" fill="#111"/>
<ellipse cx="578.4" cy="448" rx="4.96" ry="5.21" fill="#2a2a2a" stroke="#111" stroke-width="1.4"/><ellipse cx="578.4" cy="448" rx="2.23" ry="2.48" fill="#bbb" stroke="none"/>
<ellipse cx="593.2" cy="451" rx="4.96" ry="5.21" fill="#2a2a2a" stroke="#111" stroke-width="1.4"/><ellipse cx="593.2" cy="451" rx="2.23" ry="2.48" fill="#bbb" stroke="none"/>
<ellipse cx="503.9" cy="474.8" rx="3.31" ry="3.47" fill="#2a2a2a" stroke="#111" stroke-width="1.4"/><ellipse cx="503.9" cy="474.8" rx="1.49" ry="1.65" fill="#bbb" stroke="none"/>
<ellipse cx="509.7" cy="474.2" rx="3.31" ry="3.47" fill="#2a2a2a" stroke="#111" stroke-width="1.4"/><ellipse cx="509.7" cy="474.2" rx="1.49" ry="1.65" fill="#bbb" stroke="none"/>
<ellipse cx="515" cy="473.4" rx="3.31" ry="3.47" fill="#2a2a2a" stroke="#111" stroke-width="1.4"/><ellipse cx="515" cy="473.4" rx="1.49" ry="1.65" fill="#bbb" stroke="none"/>
<ellipse cx="588.3" cy="496.8" rx="3.64" ry="3.82" fill="#2a2a2a" stroke="#111" stroke-width="1.4"/><ellipse cx="588.3" cy="496.8" rx="1.64" ry="1.82" fill="#bbb" stroke="none"/>
<ellipse cx="597" cy="495.2" rx="3.64" ry="3.82" fill="#2a2a2a" stroke="#111" stroke-width="1.4"/><ellipse cx="597" cy="495.2" rx="1.64" ry="1.82" fill="#bbb" stroke="none"/>
<path d="M 561,450.5 L 573.4,448.4 M 600.7,496 L 615.6,491.1"/>
</g>
<g class="p">
<path d="M 311.9,824.4 L 366.9,773.8 Q 371.2,765.1 366.9,750.6 Q 360.5,721.6 362.5,698.5 L 381.4,637.6 Q 388.6,618.8 407.4,615.1 L 540.6,649.2 Q 562.4,656.5 560.3,673.8 L 542.1,741.9 Q 537.7,756.4 526.2,765.1 L 482.7,791.1 L 421.9,843.3"/>
<path d="M 333.6,821.5 L 377,776.7 Q 381.9,768 379.9,750.6 Q 372.7,721.6 374.7,707.2 L 393.5,643.4 Q 397.3,630.4 410.3,627.5 L 539.2,659.4 Q 549.3,662.3 547.9,672.4 L 529.6,739 Q 526.2,749.1 517.5,754.9 L 465.3,788.2 L 416.1,828.8"/>
<path d="M 407.4,615.1 Q 410.3,621.7 410.3,627.5 M 540.6,649.2 Q 537.7,655 539.2,659.4"/>
<path d="M 381.4,637.6 L 393.5,643.4 M 365.7,698.5 L 374.7,701.9 M 362.5,715.8 Q 366.9,714.4 374.1,717.3 M 368.3,756.4 Q 372.7,753.5 379.9,756.4 M 364,773.2 Q 371.2,773.8 377,776.7 M 342.3,796.9 L 348.1,802.7"/>
<path d="M 547.9,684 L 558,686.3 M 531.4,739 L 542.1,741.9 M 517.5,754.9 Q 521.8,760.7 526.2,765.1 M 476.9,781 L 482.7,791.1 M 459.6,796.9 L 471.1,799.8 M 434.9,820.1 L 442.2,825.9"/>
<path class="t" d="M 311.9,824.4 L 324.9,811.4 L 332.1,823 L 319.1,837.5 Z"/>
<path class="t" d="M 401.1,846.2 L 413.2,833.1 L 421.3,847.6 L 407.4,860.6 Z"/>
<path d="M 324.9,811.4 L 337.9,799.8 M 413.2,833.1 L 421.9,828.8"/>
<ellipse cx="320.5" cy="827.3" rx="1.16" ry="1.16" fill="#111"/>
<ellipse cx="408.9" cy="849.1" rx="1.16" ry="1.16" fill="#111"/>
<path class="d" d="M266.9,624 L722,741.5"/>
<path class="d" d="M254.9,657.7 L712,776"/>
<line class="d" x1="309" y1="781" x2="482.7" y2="825.9"/>
<line class="d" x1="323.4" y1="828.8" x2="401.6" y2="846.2"/>
<path class="t" d="M 399.3,658.5 Q 404,653.3 409.2,659.7 Q 407.4,667.2 402.8,667.8 Q 398.2,664.3 399.3,658.5 Z"/><ellipse cx="404" cy="661.4" rx="2.03" ry="2.61" fill="#333"/>
<path class="t" d="M 389.8,691.2 Q 394.4,686 399.6,692.4 Q 397.9,699.9 393.2,700.5 Q 388.6,697 389.8,691.2 Z"/><ellipse cx="394.4" cy="694.1" rx="2.03" ry="2.61" fill="#333"/>
<path class="t" d="M 526.7,691.2 Q 531.4,686 536.6,692.4 Q 534.9,699.9 530.2,700.5 Q 525.6,697 526.7,691.2 Z"/><ellipse cx="531.4" cy="694.1" rx="2.03" ry="2.61" fill="#333"/>
<path class="t" d="M 516.6,724.5 Q 521.2,719.3 526.5,725.7 Q 524.7,733.2 520.1,733.8 Q 515.4,730.3 516.6,724.5 Z"/><ellipse cx="521.2" cy="727.4" rx="2.03" ry="2.61" fill="#333"/>
<path class="t" d="M 321.7,782.5 Q 326.3,777.2 331.5,783.6 Q 329.8,791.1 325.2,791.7 Q 320.5,788.2 321.7,782.5 Z"/><ellipse cx="326.3" cy="785.3" rx="2.03" ry="2.61" fill="#333"/>
<path class="t" d="M 465.1,819.5 Q 469.7,814.3 474.9,820.7 Q 473.2,828.2 468.5,828.8 Q 463.9,825.3 465.1,819.5 Z"/><ellipse cx="469.7" cy="822.4" rx="2.03" ry="2.61" fill="#333"/>
<ellipse cx="421.9" cy="666" rx="3.48" ry="3.65" fill="#2a2a2a" stroke="#111" stroke-width="1.4"/><ellipse cx="421.9" cy="666" rx="1.56" ry="1.74" fill="#bbb" stroke="none"/>
<ellipse cx="411.8" cy="699.3" rx="3.48" ry="3.65" fill="#2a2a2a" stroke="#111" stroke-width="1.4"/><ellipse cx="411.8" cy="699.3" rx="1.56" ry="1.74" fill="#bbb" stroke="none"/>
<ellipse cx="512.6" cy="689.2" rx="3.48" ry="3.65" fill="#2a2a2a" stroke="#111" stroke-width="1.4"/><ellipse cx="512.6" cy="689.2" rx="1.56" ry="1.74" fill="#bbb" stroke="none"/>
<ellipse cx="502.4" cy="723.1" rx="3.48" ry="3.65" fill="#2a2a2a" stroke="#111" stroke-width="1.4"/><ellipse cx="502.4" cy="723.1" rx="1.56" ry="1.74" fill="#bbb" stroke="none"/>
<ellipse cx="387.2" cy="657.1" rx="1.45" ry="1.45" fill="#111"/>
<ellipse cx="377" cy="690.4" rx="1.45" ry="1.45" fill="#111"/>
<ellipse cx="553.1" cy="699.9" rx="1.45" ry="1.45" fill="#111"/>
<ellipse cx="543" cy="733.8" rx="1.45" ry="1.45" fill="#111"/>
<ellipse cx="354.7" cy="792.6" rx="1.45" ry="1.45" fill="#111"/>
<ellipse cx="450.9" cy="817.8" rx="1.45" ry="1.45" fill="#111"/>
<ellipse cx="301.7" cy="779.6" rx="4.92" ry="5.17" fill="#2a2a2a" stroke="#111" stroke-width="1.4"/><ellipse cx="301.7" cy="779.6" rx="2.22" ry="2.46" fill="#bbb" stroke="none"/>
<path d="M 306.6,779 L 316.2,781.3 L 315.3,785.3 L 306.1,783 Z"/>
<ellipse cx="298.8" cy="821.5" rx="4.63" ry="4.87" fill="#2a2a2a" stroke="#111" stroke-width="1.4"/><ellipse cx="298.8" cy="821.5" rx="2.09" ry="2.32" fill="#bbb" stroke="none"/>
<ellipse cx="305.5" cy="823.6" rx="1.74" ry="2.32"/>
<ellipse cx="494.3" cy="829.4" rx="4.63" ry="4.87" fill="#2a2a2a" stroke="#111" stroke-width="1.4"/><ellipse cx="494.3" cy="829.4" rx="2.09" ry="2.32" fill="#bbb" stroke="none"/>
<path d="M 479.8,823.6 L 489.1,826.5 L 487.9,830.5 L 478.7,827.6 Z"/>
<ellipse cx="429.1" cy="854.9" rx="4.63" ry="4.87" fill="#2a2a2a" stroke="#111" stroke-width="1.4"/><ellipse cx="429.1" cy="854.9" rx="2.09" ry="2.32" fill="#bbb" stroke="none"/>
<ellipse cx="422.5" cy="852.5" rx="1.74" ry="2.32"/>
</g>
<g class="p">
<ellipse cx="250.8" cy="620.5" rx="2.7" ry="4.8" transform="rotate(-10 250.8 620.5)" fill="#333" stroke="#111" stroke-width="1.3"/>
<ellipse cx="250.5" cy="620.5" rx="1.2" ry="2.4" transform="rotate(-10 250.5 620.5)" fill="#bbb" stroke="none"/>
<path d="M 253.2,617.5 L 265.8,621.1 Q 267.6,623.5 265.2,625.9 L 253.2,622.9"/>
<ellipse cx="243.3" cy="655" rx="2.7" ry="4.8" transform="rotate(-10 243.3 655)" fill="#333" stroke="#111" stroke-width="1.3"/>
<ellipse cx="243" cy="655" rx="1.2" ry="2.4" transform="rotate(-10 243 655)" fill="#bbb" stroke="none"/>
<path d="M 245.7,652 L 258.3,655.6 Q 260.1,658 257.7,660.4 L 245.7,657.4"/>
</g>
<g class="p">
<path class="t" d="M 660.6,501 L 677.2,496.9 L 684.4,498.9 L 691.7,505.8 L 697.9,504.7 L 692.7,507.2 L 685.5,506.2 L 682.4,502 L 676.2,509.3 L 676.2,512.4 L 648.2,552.7 L 651.3,565.1 Q 649.3,572.3 644.1,572.3 Q 640,571.3 637.9,564.1 L 628.6,551.7 L 652.4,517.5 L 660.6,513.4 Z"/>
<path d="M 628.6,551.7 L 631.7,549.6 L 642,562 L 651.3,565.1 M 631.7,549.6 L 654.4,519.6 M 677.2,496.9 L 676.2,509.3"/>
<ellipse cx="665.4" cy="508.2" rx="1.86" ry="2.48" fill="#333"/>
<ellipse cx="673.5" cy="506.6" rx="1.86" ry="2.27" fill="#333"/>
<ellipse cx="657.5" cy="525.4" rx="2.07" ry="2.69"/>
<ellipse cx="645.8" cy="536.2" rx="1.45" ry="1.86"/>
<ellipse cx="650.3" cy="540.7" rx="1.45" ry="1.86"/>
<ellipse cx="640" cy="545.5" rx="0.83" ry="1.03" fill="#111"/>
<ellipse cx="636.2" cy="549.2" rx="0.83" ry="1.03" fill="#111"/>
<ellipse cx="643.1" cy="565.1" rx="1.65" ry="2.27"/>
<path d="M 683.4,500 L 691.7,503.1 L 696.8,504.5" stroke-width="2.4"/>
<path class="k" d="M 688.6,471.4 L 695,471.4 L 695,473.5 L 688.6,473.5 Z"/>
<path d="M 690.2,473.5 L 690.2,489.6 L 693.3,489.6 L 693.3,473.5" stroke="#555"/>
<line x1="691.7" y1="489.6" x2="691.7" y2="601.3" stroke="#555" stroke-width="1"/>
<path class="t" d="M 675.5,545.9 L 682.4,545 L 683.4,547.5 L 677.2,553.3 L 659.6,576.9 L 654.9,574.4 L 656.9,569.9 L 673.5,549.6 Z"/>
<path d="M 658.6,573.4 L 660.2,576.5" stroke-width="2.4"/>
<path d="M 674.1,509.3 L 663.7,562"/>
<path class="k" d="M 671,570.7 L 675.5,572.3 L 673.5,576.9 L 669.3,574.8 Z"/>
<path d="M 666.8,575.4 L 671,576.5" stroke-width="2"/>
<ellipse class="t" cx="699.5" cy="535.5" rx="7.86" ry="11.99" transform="rotate(-8 699.5 535.5)"/>
<path d="M 695.8,524.4 Q 706.1,521.7 710.3,531 Q 712.3,540.3 707.2,546.5 L 703,547.5"/>
<ellipse class="t" cx="704.1" cy="537.2" rx="4.14" ry="5.79" transform="rotate(-8 704.1 537.2)"/>
<ellipse cx="705.7" cy="537.6" rx="2.07" ry="2.89" transform="rotate(-8 705.7 537.6)"/>
<path d="M 712.3,541.7 L 718.1,543.8" stroke-width="3"/>
<line class="d" x1="659.6" y1="525.8" x2="691.7" y2="534.7"/>
<line class="d" x1="718.5" y1="543.4" x2="766.1" y2="557.5"/>
<path class="k" d="M 685.5,554.1 L 695.8,552.7 L 698.9,555.8 L 688.6,557.5 Z"/>
<path d="M 679.3,557.9 L 702,562.4" stroke-width="1.2"/>
<path class="k" d="M 689.2,558.9 L 694.8,559.9 L 693.7,564.1 L 688.6,563 Z M 689.2,566.1 L 694.1,567.2 L 693.3,570.7 L 688.6,569.7 Z"/>
<path class="t" d="M 695.8,555.8 L 707.2,556.8 L 710.7,561 L 709.9,568.2 L 702,568.6 L 702,562 Z"/>
<ellipse cx="705.7" cy="564.7" rx="1.65" ry="2.48" stroke-width="1.6"/>
<ellipse cx="718.1" cy="566.6" rx="2.27" ry="3.52" fill="#333" stroke="#111"/>
<ellipse cx="718.1" cy="566.6" rx="0.83" ry="1.45" fill="#bbb" stroke="none"/>
<path d="M 724.7,568.6 L 732,570.3" stroke-width="2.2"/>
<ellipse class="t" cx="734.1" cy="570.7" rx="2.69" ry="3.31"/>
<ellipse cx="623.8" cy="536.2" rx="1.03" ry="1.24" fill="#222"/>
<ellipse cx="620.9" cy="540.9" rx="1.03" ry="1.24" fill="#222"/>
</g>
<g class="p">
<path class="k" d="M 822.7,513 L 862.4,500.6 Q 872.3,503.1 870.3,511.4 L 868.6,515.1 L 826.4,526.9 Q 828.9,519.6 822.7,513 Z"/>
<path d="M 826.4,515.9 Q 828.1,520.7 826.8,524.2" stroke="#ddd" stroke-width="1.2"/>
<path d="M 822.7,513 L 795.8,519.6 Q 781.4,525.8 773.1,539.3"/>
<path d="M 826.4,526.9 L 800,532 Q 789.6,536.2 783.8,545.5"/>
<path d="M 795.8,519.6 Q 800,525.8 799.6,532 M 773.1,539.3 Q 779.3,542.8 783.8,545.5"/>
<ellipse cx="798.5" cy="520.2" rx="1.86" ry="1.24"/>
<ellipse cx="765.8" cy="557.9" rx="1.03" ry="1.45" fill="#333"/>
<ellipse cx="757.6" cy="594.7" rx="1.03" ry="1.45" fill="#333"/>
<path d="M 818.6,513.8 Q 822.7,520.7 821.7,527.9"/>
<path d="M 898.2,471 L 909.1,473.1 L 885.2,553.7 Q 882.7,562 889.3,567.2 L 907.9,575.9 Q 910.6,577.5 909.6,580.6 L 903.8,602.3 L 861,588.9 Z"/>
<path d="M 861.2,589.5 L 903.4,602.8" stroke-width="2.4"/>
<path d="M 880.6,527.9 L 891,530.6 M 889.3,567.2 L 880.6,594.1"/>
<ellipse cx="866.6" cy="582.3" rx="1.24" ry="1.65" fill="#222"/>
<ellipse cx="889.9" cy="575.9" rx="1.03" ry="1.24" fill="#222"/>
<ellipse cx="894.1" cy="579.6" rx="1.03" ry="1.24" fill="#222"/>
<ellipse cx="905" cy="577.9" rx="1.03" ry="1.24" fill="#222"/>
<ellipse cx="901.9" cy="589.5" rx="1.65" ry="2.27"/>
<path d="M 892,586.8 L 899.2,596.1 L 896.1,594.1 M 899.2,596.1 L 899.6,592.4"/>
<path class="t" d="M 815.5,555.8 L 827.9,559.3 Q 837.2,564.1 836.8,568.2 L 828.5,584.8 L 806.2,574.4 Z"/>
<path d="M 818.6,558.5 L 826.8,562 L 819.6,577.5 L 811.3,573.4 Z M 826.8,562 L 830,559.3 M 811.3,573.4 L 807.2,575.5 M 819.6,577.5 L 828.5,584.8"/>
<path d="M 823.1,563.1 L 817.5,574.4" stroke-width="2.6" stroke-dasharray="1.2 1.2"/>
<path d="M 828.9,567.2 L 834.1,571.7 L 831,571.3 M 834.1,571.7 L 833.5,568.4"/>
<ellipse class="t" cx="803.1" cy="563.5" rx="3.16" ry="3.72"/><ellipse cx="803.1" cy="563.5" rx="1.41" ry="1.67"/>
<ellipse class="t" cx="847.9" cy="575.5" rx="3.16" ry="3.72"/><ellipse cx="847.9" cy="575.5" rx="1.41" ry="1.67"/>
<path class="d" d="M 851.7,576.5 L 864.1,579.6"/>
<path class="d" d="M 779.3,556.8 L 798.9,562.6"/>
<ellipse cx="785.9" cy="549" rx="2.07" ry="2.27"/>
<path d="M 788,550.6 L 797.9,558.9" stroke-width="2.6"/>
<ellipse cx="835.1" cy="589.3" rx="2.27" ry="2.27" fill="#151515" stroke="#111"/>
<path d="M 767.3,593.7 L 778.3,596.6 L 777.2,603.4 L 765.8,599.9 Z"/>
<ellipse cx="766.7" cy="596.8" rx="1.65" ry="3.31" transform="rotate(-12 766.7 596.8)"/>
<ellipse class="t" cx="777.6" cy="599.9" rx="1.65" ry="3.31" transform="rotate(-12 777.6 599.9)"/>
<path d="M 786.5,600.7 L 808.2,605.4 L 807.4,610.6 L 785.5,605.4 Z"/>
<ellipse cx="810.9" cy="608.5" rx="3.1" ry="3.26" fill="#2a2a2a" stroke="#111" stroke-width="1.4"/><ellipse cx="810.9" cy="608.5" rx="1.4" ry="1.55" fill="#bbb" stroke="none"/>
<path d="M 870.7,595.7 L 874.4,596.6 L 865.7,617.8 L 863.2,617.2 Z"/>
<path d="M 872.3,597.2 L 864.9,616.8" stroke-width="1.6" stroke="#666" stroke-dasharray="2 1.5"/>
<path d="M 851.7,628.2 L 871.3,633.4 L 866.1,648.9 L 845.5,643.7 Z"/>
<path d="M 845.5,643.7 L 866.1,649.1" stroke-width="3"/>
<path d="M 865.1,634.4 L 862,645.8 M 867.8,635.4 L 864.5,647.4"/>
<ellipse cx="852.7" cy="634.8" rx="0.83" ry="1.03" fill="#111"/>
<ellipse cx="841.3" cy="630.9" rx="2.27" ry="2.27" fill="#151515" stroke="#111"/>
<ellipse cx="845" cy="632.5" rx="1.45" ry="1.86"/>
</g>
<g class="p">
<path d="M773.1,539.3 L727.2,631.2 L680.5,783.7 L691.9,788.3 L738.5,635.8 L783.8,545.5"/>
<path d="M727.2,631.2 L738.5,635.8 M725,637 L736.3,641.5 M707.8,695 L719.2,698.4 M698.7,725.7 L708.9,729.1"/>
<circle cx="705.1" cy="739.3" r="1.7" fill="#111"/><circle cx="694.1" cy="773" r="1.7" fill="#111"/>
<path d="M730,746.5 Q733,741.5 737,742.5 Q739.5,746 735.5,752 Q731,751.5 730,746.5 Z" stroke-width="1.4"/><path d="M719,742.8 L729.5,745.8 M719.5,745.5 L729,748.3"/>
</g>
<g class="p">
<path d="M 762.3,886.5 L 803.4,870.8 L 1047.7,774.3 Q 1053.6,772.7 1058.3,776.2 L 1084.8,793 Q 1088.7,795 1093.4,793 L 1131,776.6"/>
<path d="M 764.3,891.9 L 805.3,875.9 L 1034,785.2 L 1049.7,779.4 Q 1052.8,778.2 1055.9,780.5 L 1081.7,797 Q 1088,800.1 1094.6,797.7 L 1132.9,780.5"/>
<ellipse cx="1132.1" cy="778.6" rx="1.17" ry="2.35" transform="rotate(-20 1132.1 778.6)"/>
<ellipse cx="1096.6" cy="789.5" rx="1.17" ry="1.17" fill="#111"/>
<ellipse cx="1033.2" cy="783.7" rx="0.98" ry="0.98" fill="#111"/>
<path d="M 757.4,889.7 Q 757.2,878 765.5,877.3 Q 776.4,878.4 780,892.4 Q 779.5,895.8 777.1,895.3 Q 774.6,894.2 774.1,891.1" stroke-width="1.5" stroke="#222"/>
<path d="M 759.8,888.3 Q 760.1,880.7 765.7,880.2 Q 773.6,881.6 777.3,892.4" stroke-width="1.2" stroke="#333"/>
<path d="M 772.9,883.8 Q 772.7,872.1 781,871.5 Q 791.9,872.6 795.5,886.5 Q 795,890 792.6,889.4 Q 790.1,888.3 789.6,885.2" stroke-width="1.5" stroke="#222"/>
<path d="M 775.4,882.5 Q 775.6,874.8 781.2,874.4 Q 789.2,875.7 792.8,886.5" stroke-width="1.2" stroke="#333"/>
<path d="M 788.1,878 Q 787.9,868.6 794.6,868.1 Q 803.2,868.9 806.1,880.1 Q 805.8,882.9 803.8,882.4 Q 801.8,881.6 801.4,879.1" stroke-width="1.5" stroke="#222"/>
<path d="M 790,876.9 Q 790.3,870.8 794.7,870.4 Q 801.1,871.5 804,880.1" stroke-width="1.2" stroke="#333"/>
<path d="M 758.3,886.1 Q 763.7,887.9 763.7,892.4 Q 762.8,896.9 759.2,896.5" stroke-width="3"/>
<path d="M 750.4,892.4 L 758.3,889.7 M 751.1,896.5 L 759.2,894.2 M 750.4,892.4 L 751.1,896.5" stroke-width="1.6"/>
<path d="M 1140.4,769.6 L 1174.8,757.9 Q 1179.4,761.8 1177.1,767.2 L 1143.5,779.7"/>
<ellipse class="t" cx="1141.9" cy="774.7" rx="2.74" ry="5.08" transform="rotate(-15 1141.9 774.7)"/>
<ellipse cx="1142.7" cy="774.7" rx="1.37" ry="3.13" transform="rotate(-15 1142.7 774.7)"/>
<path d="M 1157.6,763.7 Q 1160.7,768.4 1159.1,773.9 M 1160.7,762.5 Q 1163.8,767.2 1162.2,772.7"/>
<ellipse class="t" cx="1188.4" cy="754.7" rx="1.37" ry="2.35" transform="rotate(-20 1188.4 754.7)"/>
<path d="M 984,813.4 L 1002.7,818.1 L 1002,822 L 983.2,817.3 Z M 998.8,815.7 L 998.8,822" stroke-width="1.2"/>
<path d="M 1002.7,819.6 L 1013.7,820.4" stroke-width="1.6"/>
<ellipse class="t" cx="1019.2" cy="817.3" rx="5.86" ry="7.04"/>
<ellipse cx="1019.2" cy="817.3" rx="3.52" ry="4.3"/>
<ellipse cx="985.2" cy="827.1" rx="5.47" ry="5.86" fill="#222" stroke="#111"/>
<ellipse cx="984.4" cy="825.9" rx="2.74" ry="3.13" fill="#ccc" stroke="none"/>
<path d="M 987.9,822 L 991.8,824.3 L 991,831.4 L 987.1,832.9"/>
<ellipse cx="728.5" cy="899.2" rx="2.53" ry="3.97" transform="rotate(-12 728.5 899.2)" stroke-width="3.2"/>
<path d="M 735,893.8 L 744.6,900.1" stroke-width="3.6"/>
</g>
<g class="p">
<path d="M 1064,561.5 L 1103.7,550.8 Q 1111.5,552 1110.8,559.2 Q 1110.4,563.9 1106.8,565.6 L 1065.2,576.3"/>
<ellipse class="t" cx="1062.8" cy="568.7" rx="4.99" ry="7.37" transform="rotate(-8 1062.8 568.7)"/>
<ellipse cx="1063.3" cy="568.7" rx="3.33" ry="5.47" transform="rotate(-8 1063.3 568.7)"/>
<path d="M 1058,572.2 L 1048.1,575.1 Q 1045.7,578.2 1049,582.2 L 1052.1,583.7 L 1064,579.9 M 1049.7,577 L 1059.2,574.6 M 1052.1,583.7 L 1050.9,578.9" stroke-width="1.3"/>
<path d="M 1069,522.3 L 1059.9,618.6"/>
<path d="M 1069.5,520.6 L 1068.3,535.4 M 1060.9,605.5 L 1059.2,621" stroke-width="2.6"/>
<path d="M 1066.6,536.6 L 1069.5,536.6 M 1059.5,604.3 L 1062.8,604.3"/>
</g>
<g class="l">
<path d="M193,71.6 L221,71.6 L236.4,87.4"/>
<path d="M328.4,71.6 L296.8,71.6 L279,92.6"/>
<path d="M381.7,71.6 L350.5,71.6 L325.3,101"/>
<path d="M431.6,71.6 L400,71.6 L339.4,120"/>
<path d="M472,71.6 L441,71.6 L257.9,190.5"/>
<path d="M512.6,71.6 L481,71.6 L325,209"/>
<path d="M568.4,71.6 L537.3,71.6 L389.6,171.9"/>
<path d="M615.8,71.6 L585.3,71.6 L401.2,209.1"/>
<path d="M659,71.6 L628,71.6 L539,199"/>
<path d="M714.7,71.6 L684.2,71.6 L595.8,168.4"/>
<path d="M729.3,152.9 L698.7,152.9 L633.7,203.2"/>
<path d="M834.6,85.2 L803,85.2 L754.2,169.1"/>
<path d="M904,85.2 L873.3,85.2 L789.4,190.8"/>
<path d="M979,87.4 L949,87.4 L920.7,128.5"/>
<path d="M998.7,170.5 L968,170.5 L912,179.4"/>
<path d="M998.7,219.2 L968,219.2 L847.6,201.6"/>
<path d="M70,303.7 L100.9,303.7 L212.8,404.7"/>
<path d="M70,354.2 L100.9,354.2 L183.9,428.8"/>
<path d="M70,468.5 L100.9,468.5 L191.1,443.7"/>
<path d="M67.7,502.5 L99.7,502.5 L226,450"/>
<path d="M67.7,538.1 L99.7,538.1 L252.5,451.7"/>
<path d="M72,586 L102.1,586 L282.6,475.7"/>
<path d="M197.2,551.8 L228.4,551.8 L318.7,481.7"/>
<path d="M197.6,599.5 L227.2,599.5 L435.4,426.5"/>
<path d="M198.4,634.1 L228.4,634.1 L394.5,504.7"/>
<path d="M170.7,303.7 L202,303.7 L289.8,419.2"/>
<path d="M371.6,303.7 L338.6,303.7 L322.3,438.4"/>
<path d="M359,361.2 L390,361.2 L400,415"/>
<path d="M551.1,363.3 L512.8,363.3 L456.4,358.4"/>
<path d="M558.5,419 L527.5,419 L472.5,465"/>
<path d="M635,419 L602.5,419 L595,442.5"/>
<path d="M662.5,454 L627.5,454 L592.5,470"/>
<path d="M709.2,466.9 L676.2,466.9 L663.7,562"/>
<path d="M860,448.5 L828.5,448.5 L840,504"/>
<path d="M568.5,609.6 L600.7,609.6 L621.4,539.3"/>
<path d="M618.5,643.5 L651.3,643.5 L671,574.4"/>
<path d="M717.5,635.4 L684.4,635.4 L690.6,568.2"/>
<path d="M966.5,645 L932.5,645 L895,589"/>
<path d="M1018.5,724 L985,724 L832.5,574"/>
<path d="M868.5,740.5 L835,740.5 L712.5,541.5"/>
<path d="M816.5,740.5 L785,740.5 L702.5,566.5"/>
<path d="M818.5,790 L785,790 L727.5,654"/>
<path d="M818,839 L785,839 L735,746.5"/>
<path d="M207.5,715 L237.5,715 L325,784"/>
<path d="M198.5,792.5 L230,792.5 L533,500"/>
<path d="M198.5,862.5 L230,862.5 L302.5,784"/>
<path d="M198.5,905.5 L230,905.5 L295,826.5"/>
<path d="M266,905.5 L297.5,905.5 L404.5,660.8"/>
<path d="M334,905.5 L365,905.5 L472.6,639.1"/>
<path d="M407.5,905.5 L437.5,905.5 L594.9,496.8"/>
<path d="M500,874 L530,874 L637.9,562"/>
<path d="M567.5,874 L597.5,874 L691.7,569.2"/>
<path d="M1163.9,510.9 L1131.8,510.9 L1093.7,561.5"/>
<path d="M1162.7,670.4 L1131.8,670.4 L1061.6,605.5"/>
<path d="M1096.5,730 L1122.5,730 L1147.5,771.5"/>
<path d="M1139,730 L1165,730 L1187.5,754"/>
<path d="M1127.5,835.5 L1097.5,835.5 L1034,784"/>
<path d="M1065,859 L1037.5,859 L1022.5,820"/>
<path d="M937.5,890.5 L966.5,890.5 L985,834"/>
<path d="M685,946.5 L715,946.5 L730,901.5"/>
<path d="M800,940.5 L767.5,940.5 L740,896.5"/>
</g>
<g class="n" opacity="0.999">
<text x="191" y="66.7" textLength="27.8" lengthAdjust="spacingAndGlyphs">173</text>
<text x="301" y="66.7" textLength="28.2" lengthAdjust="spacingAndGlyphs">174</text>
<text x="354.8" y="66.7" textLength="27.7" lengthAdjust="spacingAndGlyphs">175</text>
<text x="404.3" y="66.7" textLength="28.1" lengthAdjust="spacingAndGlyphs">176</text>
<text x="445.4" y="66.7" textLength="27.4" lengthAdjust="spacingAndGlyphs">177</text>
<text x="486" y="66.7" textLength="27.4" lengthAdjust="spacingAndGlyphs">178</text>
<text x="541.6" y="66.7" textLength="27.6" lengthAdjust="spacingAndGlyphs">179</text>
<text x="589.6" y="66.7" textLength="27" lengthAdjust="spacingAndGlyphs">180</text>
<text x="633.8" y="66.7" textLength="26" lengthAdjust="spacingAndGlyphs">181</text>
<text x="688.5" y="66.7" textLength="27" lengthAdjust="spacingAndGlyphs">182</text>
<text x="699.4" y="148" textLength="27.2" lengthAdjust="spacingAndGlyphs">193</text>
<text x="807.7" y="80.3" textLength="27.7" lengthAdjust="spacingAndGlyphs">184</text>
<text x="879.4" y="80.3" textLength="25.4" lengthAdjust="spacingAndGlyphs">311</text>
<text x="952.5" y="82.5" textLength="27.3" lengthAdjust="spacingAndGlyphs">186</text>
<text x="973.4" y="165.6" textLength="26.1" lengthAdjust="spacingAndGlyphs">312</text>
<text x="973.4" y="214.3" textLength="26.1" lengthAdjust="spacingAndGlyphs">313</text>
<text x="69.5" y="298.8" textLength="29.1" lengthAdjust="spacingAndGlyphs">226</text>
<text x="69.5" y="349.3" textLength="29.1" lengthAdjust="spacingAndGlyphs">225</text>
<text x="69.5" y="463.6" textLength="29.1" lengthAdjust="spacingAndGlyphs">224</text>
<text x="67.1" y="497.6" textLength="29.7" lengthAdjust="spacingAndGlyphs">223</text>
<text x="67.1" y="533.2" textLength="29.7" lengthAdjust="spacingAndGlyphs">222</text>
<text x="71.4" y="581.1" textLength="27.4" lengthAdjust="spacingAndGlyphs">221</text>
<text x="196.6" y="546.9" textLength="29" lengthAdjust="spacingAndGlyphs">220</text>
<text x="197" y="594.6" textLength="27.4" lengthAdjust="spacingAndGlyphs">219</text>
<text x="197.8" y="629.2" textLength="26.6" lengthAdjust="spacingAndGlyphs">218</text>
<text x="170.1" y="298.8" textLength="29.5" lengthAdjust="spacingAndGlyphs">227</text>
<text x="342.8" y="298.8" textLength="29.6" lengthAdjust="spacingAndGlyphs">229</text>
<text x="358.4" y="356.3" textLength="28.9" lengthAdjust="spacingAndGlyphs">230</text>
<text x="524.6" y="358.4" textLength="27.3" lengthAdjust="spacingAndGlyphs">314</text>
<text x="530.9" y="414.1" textLength="28.4" lengthAdjust="spacingAndGlyphs">231</text>
<text x="605.4" y="414.1" textLength="29.4" lengthAdjust="spacingAndGlyphs">232</text>
<text x="633.4" y="449.1" textLength="29.9" lengthAdjust="spacingAndGlyphs">233</text>
<text x="680.7" y="462" textLength="29.3" lengthAdjust="spacingAndGlyphs">234</text>
<text x="827.9" y="443.6" textLength="29.4" lengthAdjust="spacingAndGlyphs">236</text>
<text x="570.9" y="604.7" textLength="29.5" lengthAdjust="spacingAndGlyphs">238</text>
<text x="620.8" y="638.6" textLength="29.3" lengthAdjust="spacingAndGlyphs">239</text>
<text x="688" y="630.5" textLength="30.3" lengthAdjust="spacingAndGlyphs">240</text>
<text x="936.9" y="640.1" textLength="28.9" lengthAdjust="spacingAndGlyphs">235</text>
<text x="988.4" y="719.1" textLength="30.9" lengthAdjust="spacingAndGlyphs">204</text>
<text x="839.4" y="735.6" textLength="28.9" lengthAdjust="spacingAndGlyphs">206</text>
<text x="789.4" y="735.6" textLength="27.9" lengthAdjust="spacingAndGlyphs">207</text>
<text x="789.4" y="785.1" textLength="28.9" lengthAdjust="spacingAndGlyphs">208</text>
<text x="789.4" y="834.1" textLength="27.9" lengthAdjust="spacingAndGlyphs">209</text>
<text x="208.4" y="710.1" textLength="29.9" lengthAdjust="spacingAndGlyphs">228</text>
<text x="197.9" y="787.6" textLength="26.4" lengthAdjust="spacingAndGlyphs">217</text>
<text x="197.9" y="857.6" textLength="26.4" lengthAdjust="spacingAndGlyphs">216</text>
<text x="197.9" y="900.6" textLength="26.4" lengthAdjust="spacingAndGlyphs">215</text>
<text x="265.4" y="900.6" textLength="26.9" lengthAdjust="spacingAndGlyphs">214</text>
<text x="333.4" y="900.6" textLength="26.4" lengthAdjust="spacingAndGlyphs">213</text>
<text x="406.9" y="900.6" textLength="26.4" lengthAdjust="spacingAndGlyphs">212</text>
<text x="499.4" y="869.1" textLength="23.9" lengthAdjust="spacingAndGlyphs">211</text>
<text x="566.9" y="869.1" textLength="26.4" lengthAdjust="spacingAndGlyphs">210</text>
<text x="1138.3" y="506" textLength="26.4" lengthAdjust="spacingAndGlyphs">315</text>
<text x="1138.3" y="665.5" textLength="26.4" lengthAdjust="spacingAndGlyphs">316</text>
<text x="1094.5" y="725.1" textLength="27.3" lengthAdjust="spacingAndGlyphs">188</text>
<text x="1137" y="725.1" textLength="27.3" lengthAdjust="spacingAndGlyphs">187</text>
<text x="1100.5" y="830.6" textLength="27.8" lengthAdjust="spacingAndGlyphs">189</text>
<text x="1035.5" y="854.1" textLength="28.8" lengthAdjust="spacingAndGlyphs">190</text>
<text x="937" y="885.6" textLength="26.3" lengthAdjust="spacingAndGlyphs">191</text>
<text x="683" y="941.6" textLength="27.8" lengthAdjust="spacingAndGlyphs">192</text>
<text x="771.9" y="935.6" textLength="28.9" lengthAdjust="spacingAndGlyphs">229</text>
</g>
</svg>
</body></html>
